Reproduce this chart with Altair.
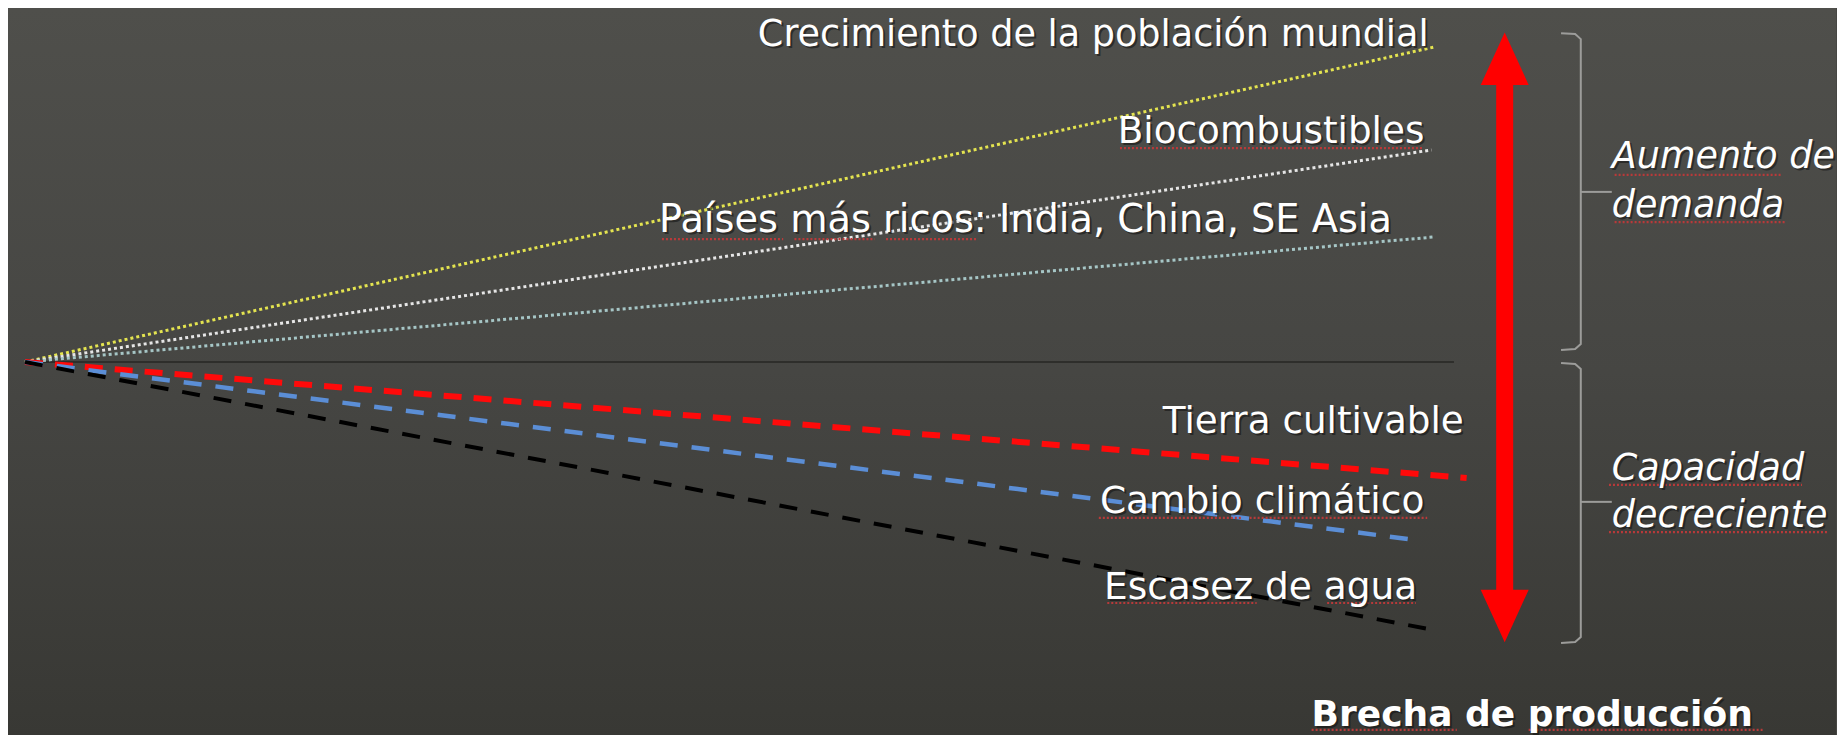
import altair as alt
import pandas as pd

# ---------------- data ----------------
# horizontal axis: time (arbitrary units, 0 = today); vertical: index (0 = current balance)
X_DOMAIN = [-0.1206, 12.851]
Y_DOMAIN = [-118.41, 112.38]

series_names = [
    "Crecimiento de la población mundial",
    "Biocombustibles",
    "Países más ricos",
    "Tierra cultivable",
    "Cambio climático",
    "Escasez de agua",
]
start_t = [0.0, 0.0, 0.0, 0.0, 0.0, 0.0]
start_v = [0.0, 0.0, 0.0, 0.0, 0.0, 0.0]
end_t = [10.0, 9.98, 10.0, 10.23, 9.87, 10.0]
end_v = [100.0, 67.3, 39.7, -36.8, -56.5, -85.1]

series_colors = ["#e4e450", "#e6e6e6", "#a6c6c6", "#ff0a0a", "#5b8ed6", "#000000"]
series_widths = [3, 3, 3, 6, 4.5, 4]
series_dashes = [[3, 3], [3, 3], [3, 3], [18, 12], [18, 14], [18, 14]]

baseline_t = [0.0, 10.14]

# labels next to the lines (right aligned)
label_text = [
    "Crecimiento de la población mundial",
    "Biocombustibles",
    "Países más ricos: India, China, SE Asia",
    "Tierra cultivable",
    "Cambio climático",
    "Escasez de agua",
]
label_t = [9.96, 9.93, 9.70, 10.21, 9.93, 9.88]
label_v = [100.4, 69.5, 41.3, -22.5, -47.9, -75.2]
label_size = [36.6, 37.3, 38.3, 37.3, 37.5, 37.5]

# bracket annotations (italic, left aligned)
group_text = ["Aumento de", "demanda", "Capacidad", "decreciente"]
group_t = [11.26, 11.26, 11.26, 11.26]
group_v = [61.6, 46.0, -37.5, -52.4]

gap_text = ["Brecha de producción"]
gap_t = [9.13]
gap_v = [-115.4]

# spell-check underlines seen under some words
squig_t = [7.77, 4.52, 5.46, 6.11, 7.62, 8.69, 7.68, 9.24, 11.28, 11.28, 11.24, 11.24, 9.13, 10.67]
squig_t2 = [9.92, 5.38, 6.03, 6.75, 8.63, 9.95, 8.74, 9.87, 12.46, 12.50, 12.61, 12.79, 10.16, 12.33]
squig_v = [67.9, 39.0, 39.0, 39.0, -49.5, -49.5, -76.5, -76.5, 59.4, 44.4, -39.0, -54.0, -116.8, -116.8]

# double arrow (production gap)
arrow_t = [10.5]
arrow_top = [91.1]
arrow_bottom = [-77.1]
head_up_v = [95.9]
head_down_v = [-80.2]

# braces
brace_id = ["up"] * 6 + ["down"] * 6
brace_order = [0, 1, 2, 3, 4, 5] * 2
brace_t = [10.90, 11.0, 11.04, 11.04, 11.0, 10.90] * 2
brace_v = [104.4, 104.1, 102.5, 5.7, 4.1, 3.8,
           -0.3, -0.6, -2.2, -87.3, -88.9, -89.2]
brace_tick_t = [11.04, 11.04]
brace_tick_t2 = [11.26, 11.26]
brace_tick_v = [54.0, -44.4]

# ---------------- chart ----------------
W, H = 1829, 727
FONT = "DejaVu Sans"

xs = alt.Scale(domain=X_DOMAIN, nice=False, zero=False)
ys = alt.Scale(domain=Y_DOMAIN, nice=False, zero=False)


def X(f):
    return alt.X(f, type="quantitative", scale=xs, axis=None)


def Y(f):
    return alt.Y(f, type="quantitative", scale=ys, axis=None)


bg_df = pd.DataFrame({"x": [X_DOMAIN[0]], "x2": [X_DOMAIN[1]],
                      "y": [Y_DOMAIN[0]], "y2": [Y_DOMAIN[1]]})
background = alt.Chart(bg_df).mark_rect(
    color=alt.LinearGradient(
        gradient="linear",
        stops=[alt.GradientStop(color="#4f4f4b", offset=0),
               alt.GradientStop(color="#464643", offset=0.5),
               alt.GradientStop(color="#383834", offset=1)],
        x1=0, x2=0, y1=0, y2=1,
    )
).encode(x=X("x"), x2="x2", y=Y("y"), y2="y2")

base_df = pd.DataFrame({"t": baseline_t, "v": [0.0, 0.0]})
baseline = alt.Chart(base_df).mark_line(color="#2e2e2b", strokeWidth=2).encode(
    x=X("t"), y=Y("v"))

layers = [background, baseline]
for i, name in enumerate(series_names):
    df = pd.DataFrame({"t": [start_t[i], end_t[i]], "v": [start_v[i], end_v[i]],
                       "serie": [name, name]})
    layers.append(
        alt.Chart(df).mark_line(
            color=series_colors[i], strokeWidth=series_widths[i],
            strokeDash=series_dashes[i], strokeCap="butt",
        ).encode(x=X("t"), y=Y("v"))
    )

# arrow
arrow_df = pd.DataFrame({"t": arrow_t, "top": arrow_top, "bottom": arrow_bottom,
                         "up": head_up_v, "down": head_down_v})
shaft = alt.Chart(arrow_df).mark_rule(color="#ff0000", strokeWidth=17).encode(
    x=X("t"), y=Y("top"), y2="bottom")
head_up = alt.Chart(arrow_df).mark_point(
    shape="M0,-1.1L0.96,1L-0.96,1Z", size=2500, filled=True,
    color="#ff0000", opacity=1, strokeWidth=0).encode(x=X("t"), y=Y("up"))
head_down = alt.Chart(arrow_df).mark_point(
    shape="M0,1.1L0.96,-1L-0.96,-1Z", size=2500, filled=True,
    color="#ff0000", opacity=1, strokeWidth=0).encode(x=X("t"), y=Y("down"))

# braces
brace_df = pd.DataFrame({"b": brace_id, "i": brace_order, "t": brace_t, "v": brace_v})
braces = alt.Chart(brace_df).mark_line(color="#9c9c9a", strokeWidth=2).encode(
    x=X("t"), y=Y("v"), detail="b:N", order="i:Q")
tick_df = pd.DataFrame({"t": brace_tick_t, "t2": brace_tick_t2, "v": brace_tick_v})
ticks = alt.Chart(tick_df).mark_rule(color="#9c9c9a", strokeWidth=2).encode(
    x=X("t"), x2="t2", y=Y("v"))

# squiggles
sq_df = pd.DataFrame({"t": squig_t, "t2": squig_t2, "v": squig_v})
squiggles = alt.Chart(sq_df).mark_rule(
    color="#b83a3a", strokeWidth=2.2, strokeDash=[2, 2]).encode(
    x=X("t"), x2="t2", y=Y("v"))

# texts
lab_df = pd.DataFrame({"text": label_text, "t": label_t, "v": label_v, "s": label_size})
grp_df = pd.DataFrame({"text": group_text, "t": group_t, "v": group_v})
gap_df = pd.DataFrame({"text": gap_text, "t": gap_t, "v": gap_v})


def texts(df, align, size, style="normal", weight="normal"):
    out = []
    for color, op, d in [("#111111", 0.55, 2), ("#ffffff", 1, 0)]:
        kw = dict(align=align, baseline="alphabetic", font=FONT,
                  fontStyle=style, fontWeight=weight, color=color, opacity=op,
                  dx=d, dy=d)
        enc = dict(x=X("t"), y=Y("v"), text="text:N")
        if size is None:
            enc["size"] = alt.Size("s:Q", scale=None, legend=None)
        else:
            kw["fontSize"] = size
        out.append(alt.Chart(df).mark_text(**kw).encode(**enc))
    return out


layers += [braces, ticks, shaft, head_up, head_down, squiggles]
layers += texts(lab_df, "right", None)
layers += texts(grp_df, "left", 36.5, style="italic")
layers += texts(gap_df, "left", 36, weight="bold")

chart = alt.layer(*layers).properties(
    width=W, height=H, padding=0,
    autosize=alt.AutoSizeParams(type="fit", contains="padding"),
    background="#464643",
).configure_view(stroke=None)

chart.save("out.html", embed_options={"renderer": "svg", "actions": False})
